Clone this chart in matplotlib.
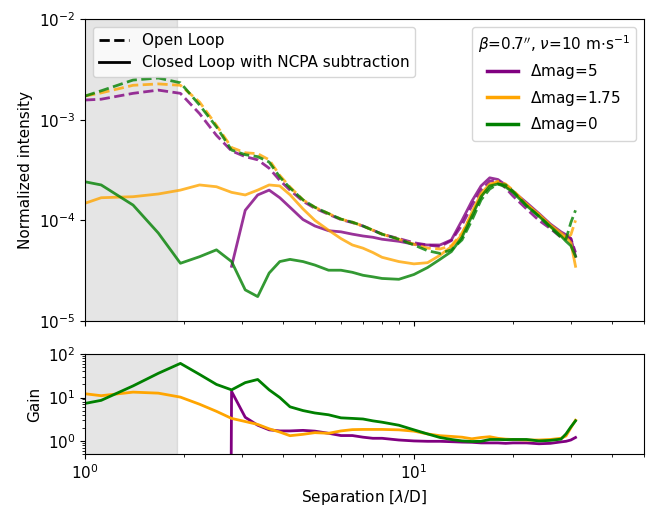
import numpy as np
import matplotlib.pyplot as plt

# separation grid [lambda/D]
sep = [1.0, 1.12, 1.40, 1.67, 1.95, 2.23, 2.51, 2.79, 3.07, 3.35,
       3.63, 3.91, 4.2, 4.6, 5.0, 5.5, 6.0, 6.5, 7.0, 7.5,
       8.0, 9.0, 10.0, 11.0, 12.0, 13.0, 14.0, 15.0, 16.0, 17.0,
       18.0, 19.0, 20.0, 22.0, 24.0, 26.0, 28.0, 29.0, 30.0, 31.0]

# open loop contrast curves
ol_dm5 = [1.57e-3, 1.6e-3, 1.83e-3, 1.97e-3, 1.83e-3, 1.15e-3, 7.0e-4, 4.9e-4, 4.3e-4, 4.0e-4,
          3.3e-4, 2.5e-4, 2.0e-4, 1.55e-4, 1.32e-4, 1.15e-4, 1.02e-4, 9.5e-5, 8.8e-5, 8.0e-5,
          7.3e-5, 6.6e-5, 6.0e-5, 5.7e-5, 5.5e-5, 6.3e-5, 9.0e-5, 1.4e-4, 2.0e-4, 2.45e-4,
          2.5e-4, 2.1e-4, 1.75e-4, 1.3e-4, 1.0e-4, 8.3e-5, 6.8e-5, 6.8e-5, 6.6e-5, 4.8e-5]
ol_dm175 = [1.72e-3, 1.85e-3, 2.2e-3, 2.27e-3, 2.2e-3, 1.5e-3, 8.8e-4, 5.3e-4, 4.7e-4, 4.6e-4,
            4.0e-4, 2.8e-4, 2.15e-4, 1.6e-4, 1.35e-4, 1.17e-4, 1.03e-4, 9.6e-5, 8.8e-5, 8.0e-5,
            7.3e-5, 6.5e-5, 5.8e-5, 5.3e-5, 5.2e-5, 5.6e-5, 7.5e-5, 1.15e-4, 1.75e-4, 2.2e-4,
            2.45e-4, 2.3e-4, 2.0e-4, 1.45e-4, 1.12e-4, 8.7e-5, 7.0e-5, 6.6e-5, 7.2e-5, 1.0e-4]
ol_dm0 = [1.72e-3, 1.94e-3, 2.48e-3, 2.6e-3, 2.33e-3, 1.4e-3, 8.5e-4, 5.0e-4, 4.5e-4, 4.3e-4,
          3.8e-4, 2.7e-4, 2.1e-4, 1.6e-4, 1.35e-4, 1.17e-4, 1.03e-4, 9.6e-5, 8.8e-5, 8.0e-5,
          7.3e-5, 6.5e-5, 5.7e-5, 5.0e-5, 4.7e-5, 5.1e-5, 6.4e-5, 1.0e-4, 1.6e-4, 2.05e-4,
          2.3e-4, 2.25e-4, 1.95e-4, 1.4e-4, 1.1e-4, 8.5e-5, 6.8e-5, 6.5e-5, 9.5e-5, 1.26e-4]

# closed loop with NCPA subtraction
nan = np.nan
cl_dm5 = [nan, nan, nan, nan, nan, nan, nan, 3.5e-5, 1.26e-4, 1.79e-4,
          2.0e-4, 1.68e-4, 1.35e-4, 1.02e-4, 8.8e-5, 7.9e-5, 7.7e-5, 7.3e-5, 7.0e-5, 6.8e-5,
          6.5e-5, 6.2e-5, 5.8e-5, 5.7e-5, 5.7e-5, 6.4e-5, 1.0e-4, 1.55e-4, 2.2e-4, 2.65e-4,
          2.55e-4, 2.25e-4, 1.95e-4, 1.5e-4, 1.17e-4, 9.2e-5, 7.7e-5, 7.2e-5, 6.6e-5, 4.4e-5]
cl_dm175 = [1.48e-4, 1.68e-4, 1.72e-4, 1.83e-4, 2.0e-4, 2.25e-4, 2.16e-4, 1.9e-4, 1.79e-4, 2.0e-4,
            2.25e-4, 2.2e-4, 1.8e-4, 1.3e-4, 1.0e-4, 8.0e-5, 6.6e-5, 5.7e-5, 5.3e-5, 4.8e-5,
            4.3e-5, 3.9e-5, 3.7e-5, 3.8e-5, 4.5e-5, 5.5e-5, 7.2e-5, 1.2e-4, 1.85e-4, 2.3e-4,
            2.4e-4, 2.2e-4, 1.95e-4, 1.45e-4, 1.15e-4, 9.0e-5, 7.5e-5, 6.8e-5, 6.0e-5, 3.5e-5]
cl_dm0 = [2.42e-4, 2.25e-4, 1.42e-4, 7.5e-5, 3.75e-5, 4.36e-5, 5.1e-5, 3.9e-5, 2.04e-5, 1.75e-5,
          3.0e-5, 3.9e-5, 4.1e-5, 3.9e-5, 3.6e-5, 3.2e-5, 3.2e-5, 3.05e-5, 2.85e-5, 2.75e-5,
          2.65e-5, 2.6e-5, 2.9e-5, 3.4e-5, 4.1e-5, 4.9e-5, 6.8e-5, 1.1e-4, 1.72e-4, 2.2e-4,
          2.3e-4, 2.15e-4, 1.9e-4, 1.4e-4, 1.1e-4, 8.7e-5, 7.0e-5, 6.2e-5, 5.6e-5, 4.4e-5]

# gain curves
gain_dm0 = [7.3, 8.6, 18.5, 36, 61, 34, 20, 15, 22, 26,
            15, 10, 6.1, 5.0, 4.4, 4.0, 3.4, 3.3, 3.2, 2.9,
            2.7, 2.3, 1.8, 1.45, 1.2, 1.08, 1.0, 0.97, 0.98, 1.08,
            1.08, 1.07, 1.08, 1.08, 1.0, 1.03, 1.1, 1.45, 2.1, 2.9]
gain_dm175 = [12.2, 11.0, 13.3, 12.6, 10.2, 7.0, 4.8, 3.3, 2.8, 2.4,
              1.9, 1.6, 1.32, 1.42, 1.55, 1.5, 1.7, 1.82, 1.84, 1.84,
              1.84, 1.8, 1.68, 1.45, 1.32, 1.27, 1.22, 1.12, 1.2, 1.25,
              1.15, 1.1, 1.08, 1.05, 1.05, 1.08, 1.15, 1.3, 2.0, 3.0]
sep_gain_dm5 = [2.78] + sep[7:]
gain_dm5 = [0.1, 13.8, 3.5, 2.3, 1.8, 1.7, 1.7, 1.75, 1.68, 1.5,
            1.33, 1.33, 1.22, 1.15, 1.15, 1.05, 1.0, 0.98, 0.98, 0.96,
            0.94, 0.93, 0.9, 0.9, 0.9, 0.88, 0.9, 0.9, 0.86, 0.88,
            0.95, 0.98, 1.05, 1.2]

iwa = 1.9
colors = ['purple', 'orange', 'green']
labels = [r'$\Delta$mag=5', r'$\Delta$mag=1.75', r'$\Delta$mag=0']

plt.rcParams['font.size'] = 11

fig = plt.figure(figsize=(6.46, 5.08), dpi=100)
ax1 = fig.add_axes([0.1316, 0.368, 0.865, 0.5944])
ax2 = fig.add_axes([0.1316, 0.1063, 0.865, 0.1967], sharex=ax1)

# top panel ------------------------------
for ol, cl, c in zip([ol_dm5, ol_dm175, ol_dm0], [cl_dm5, cl_dm175, cl_dm0], colors):
    ax1.plot(sep, ol, '--', color=c, lw=2, alpha=0.8)
    ax1.plot(sep, cl, '-', color=c, lw=2, alpha=0.8)
ax1.axvspan(0.5, iwa, color='gray', alpha=0.2)
ax1.set_xscale('log')
ax1.set_yscale('log')
ax1.set_xlim(1, 50)
ax1.set_ylim(1e-5, 1e-2)
ax1.yaxis.set_minor_locator(plt.NullLocator())
ax1.tick_params(labelbottom=False)
ax1.set_ylabel('Normalized intensity')

style_handles = [plt.Line2D([], [], color='k', ls='--', lw=2),
                 plt.Line2D([], [], color='k', ls='-', lw=2)]
leg1 = ax1.legend(style_handles, ['Open Loop', 'Closed Loop with NCPA subtraction'], loc='upper left')
ax1.add_artist(leg1)
color_handles = [plt.Line2D([], [], color=c, lw=2.5) for c in colors]
ax1.legend(color_handles, labels, loc='upper right',
           title=r"$\beta$=0.7$''$, $\nu$=10 m$\cdot$s$^{-1}$")

# gain panel -----------------------------
ax2.plot(sep_gain_dm5, gain_dm5, color='purple', lw=2)
ax2.plot(sep, gain_dm175, color='orange', lw=2)
ax2.plot(sep, gain_dm0, color='green', lw=2)
ax2.axvspan(0.5, iwa, color='gray', alpha=0.2)
ax2.set_yscale('log')
ax2.set_ylim(0.5, 100)
ax2.set_ylabel('Gain')
ax2.set_xlabel(r'Separation [$\lambda$/D]')

fig.savefig('out.png', dpi=100)
